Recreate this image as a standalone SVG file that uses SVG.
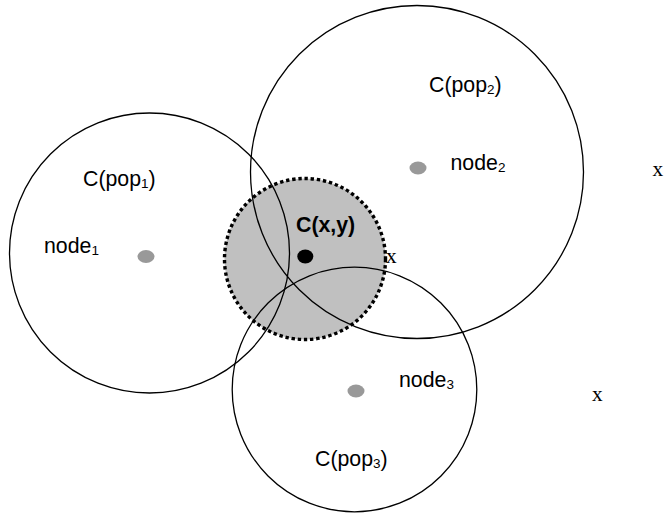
<svg xmlns="http://www.w3.org/2000/svg" width="664" height="513" viewBox="0 0 664 513">
  <style>
    .ring { fill: none; stroke: #000; stroke-width: 1.3; }
    .region { fill: #c0c0c0; stroke: #000; stroke-width: 3.4; stroke-dasharray: 3.4 2.8; }
    .site { fill: #999999; }
    .point { fill: #000; }
    .lbl { font-family: "Liberation Sans", Arial, sans-serif; font-size: 21.3px; fill: #000; }
    .bold { font-weight: bold; }
    .sub { font-size: 13.5px; }
    .mark { font-family: "Liberation Serif", "Times New Roman", serif; font-size: 21.3px; fill: #000; }
  </style>
  <rect width="664" height="513" fill="#fff"/>

  <!-- shaded coverage region C(x,y) -->
  <g id="region-xy">
    <circle class="region" cx="305" cy="259" r="80.5"/>
  </g>

  <!-- population coverage circles -->
  <g id="pop1">
    <circle class="ring" cx="149.5" cy="253" r="140"/>
    <text class="lbl" x="83" y="186">C(pop<tspan class="sub" dy="2">1</tspan><tspan dy="-2">)</tspan></text>
  </g>
  <g id="pop2">
    <circle class="ring" cx="417" cy="172" r="166.5"/>
    <text class="lbl" x="429" y="92">C(pop<tspan class="sub" dy="2">2</tspan><tspan dy="-2">)</tspan></text>
  </g>
  <g id="pop3">
    <circle class="ring" cx="354.5" cy="389.5" r="122.3"/>
    <text class="lbl" x="315" y="466">C(pop<tspan class="sub" dy="2">3</tspan><tspan dy="-2">)</tspan></text>
  </g>

  <!-- nodes -->
  <g id="node1">
    <ellipse class="site" cx="146" cy="256.5" rx="8.5" ry="6.5"/>
    <text class="lbl" x="44" y="253">node<tspan class="sub" dy="2">1</tspan></text>
  </g>
  <g id="node2">
    <ellipse class="site" cx="418" cy="168" rx="8.5" ry="6.5"/>
    <text class="lbl" x="450.5" y="170">node<tspan class="sub" dy="2">2</tspan></text>
  </g>
  <g id="node3">
    <ellipse class="site" cx="356" cy="391" rx="8.5" ry="6.5"/>
    <text class="lbl" x="399" y="386.5">node<tspan class="sub" dy="2">3</tspan></text>
  </g>

  <!-- point (x,y) -->
  <g id="point-xy">
    <ellipse class="point" cx="305.3" cy="256.5" rx="8" ry="7"/>
    <text class="lbl bold" x="296" y="231.5">C(x,y)</text>
  </g>

  <!-- candidate positions -->
  <g id="marks">
    <text class="mark" x="386" y="263">x</text>
    <text class="mark" x="652.5" y="176">x</text>
    <text class="mark" x="592" y="401">x</text>
  </g>
</svg>
